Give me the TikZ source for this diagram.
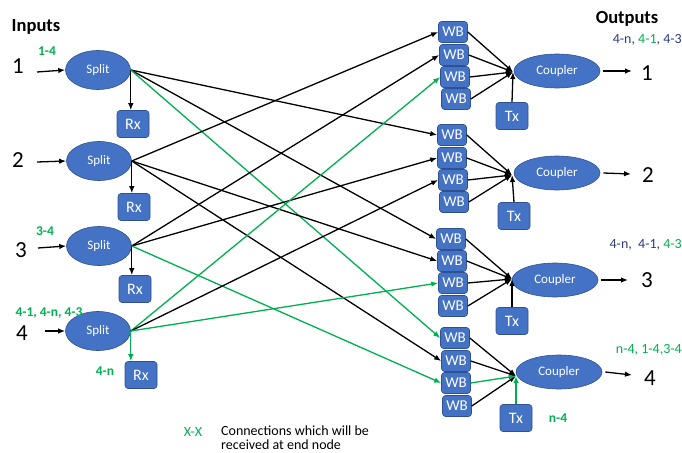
\documentclass[tikz,border=0pt]{standalone}
\usepackage{fontspec}
\setmainfont{Carlito}
\usetikzlibrary{shapes.geometric,arrows.meta}
\definecolor{boxblue}{HTML}{4472C4}
\definecolor{boxedge}{HTML}{2F528F}
\definecolor{okgreen}{HTML}{00B050}
\definecolor{navy}{HTML}{2B3D7A}
\newcommand{\txtsize}[1]{\fontsize{#1}{#1}\selectfont}
\begin{document}
\begin{tikzpicture}[x=1pt,y=-1pt,
  blueshape/.style={fill=boxblue, draw=boxedge, line width=0.6pt, inner sep=0pt, text=white},
  splitnode/.style={blueshape, ellipse, minimum width=65pt, minimum height=39pt, font=\txtsize{13}},
  couplernode/.style={blueshape, ellipse, minimum width=86pt, minimum height=34pt, font=\txtsize{13}},
  wbbox/.style={blueshape, rectangle, rounded corners=3pt, minimum width=29pt, minimum height=21pt, font=\txtsize{15}},
  rxbox/.style={blueshape, rectangle, rounded corners=3pt, minimum width=32pt, minimum height=27pt, font=\txtsize{16}},
  link/.style={line width=1.3pt, -{Latex[length=7pt,width=5.5pt]}},
  glink/.style={link, draw=okgreen, fill=okgreen},
  num/.style={font=\txtsize{23}, inner sep=0pt},
  heading/.style={font=\bfseries\txtsize{18.5}, inner sep=0pt},
  glabel/.style={font=\bfseries\txtsize{13.5}, text=okgreen, inner sep=0pt},
  olabel/.style={font=\txtsize{14}, text=navy, inner sep=0pt}
]
\useasboundingbox (0,0) rectangle (682,452);

% headings
\node[heading] (inputs) at (36,27) {Inputs};
\node[heading] (outputs) at (627,19) {Outputs};

% input side: numbers, splitters, receivers
\node[num] (n1) at (18,66) {1};
\node[num] (n2) at (18,160) {2};
\node[num] (n3) at (21,250) {3};
\node[num] (n4) at (22,333) {4};

\node[splitnode] (s1) at (98,70) {Split};
\node[splitnode] (s2) at (99,161) {Split};
\node[splitnode] (s3) at (99,246) {Split};
\node[splitnode] (s4) at (98,331) {Split};

\node[rxbox] (r1) at (133,124) {Rx};
\node[rxbox] (r2) at (134,207) {Rx};
\node[rxbox] (r3) at (135,289) {Rx};
\node[rxbox] (r4) at (141,375) {Rx};

\coordinate (i1) at (37,72);
\coordinate (i2) at (37,162);
\coordinate (i3) at (38,248);
\coordinate (i4) at (45,331);

\node[glabel] (l14) at (47,51) {1-4};
\node[glabel] (l34) at (45,231) {3-4};
\node[glabel] (l4x) at (49,313) {4-1, 4-n, 4-3};
\node[glabel] (l4n) at (105,371) {4-n};

% wavelength blockers, four per output
\node[wbbox] (a1) at (453,32) {WB};
\node[wbbox] (a2) at (454,55) {WB};
\node[wbbox] (a3) at (455,77) {WB};
\node[wbbox] (a4) at (456,99) {WB};

\node[wbbox] (b1) at (452,135) {WB};
\node[wbbox] (b2) at (452,158) {WB};
\node[wbbox] (b3) at (453,180) {WB};
\node[wbbox] (b4) at (454,202) {WB};

\node[wbbox] (c1) at (451,239) {WB};
\node[wbbox] (c2) at (452,261) {WB};
\node[wbbox] (c3) at (453,283) {WB};
\node[wbbox] (c4) at (453,306) {WB};

\node[wbbox] (d1) at (455,338) {WB};
\node[wbbox] (d2) at (456,361) {WB};
\node[wbbox] (d3) at (456,383) {WB};
\node[wbbox] (d4) at (457,406) {WB};

% couplers and transmitters
\node[couplernode] (cp1) at (557,71) {Coupler};
\node[couplernode] (cp2) at (557,173) {Coupler};
\node[couplernode] (cp3) at (555,280) {Coupler};
\node[couplernode] (cp4) at (559,372) {Coupler};

\node[rxbox] (t1) at (512,116) {Tx};
\node[rxbox] (t2) at (514,216) {Tx};
\node[rxbox] (t3) at (512,321) {Tx};
\node[rxbox] (t4) at (516,418) {Tx};

\coordinate (j1) at (513,72);
\coordinate (j2) at (512,175);
\coordinate (j3) at (512,279);
\coordinate (j4) at (516,376);

\coordinate (o1) at (632,71);
\coordinate (o2) at (631,174);
\coordinate (o3) at (628,280);
\coordinate (o4) at (632,375);

\node[num] (m1) at (647,73) {1};
\node[num] (m2) at (648,175) {2};
\node[num] (m3) at (647,280) {3};
\node[num] (m4) at (650,378) {4};

\node[olabel, anchor=east] (q1) at (682,40) {4-n, \textcolor{okgreen}{4-1}, 4-3};
\node[olabel, anchor=east] (q3) at (682,245) {4-n,\ \ 4-1, \textcolor{okgreen}{4-3}};
\node[olabel, anchor=east, text=okgreen] (q4) at (682,350) {n-4, 1-4,3-4};
\node[glabel] (ln4) at (558,418) {n-4};

% input arrows
\draw[link] (i1) -- (s1.west);
\draw[link] (i2) -- (s2.west);
\draw[link] (i3) -- (s3.west);
\draw[link] (i4) -- (s4.west);

% splitter to local receiver
\draw[link] (s1.east) -- (s1.east |- r1.north);
\draw[link] (s2.east) -- (s2.east |- r2.north);
\draw[link] (s3.east) -- (s3.east |- r3.north);
\draw[glink] (s4.east) -- (s4.east |- r4.north);

% splitter fan-out to the wavelength blockers
\draw[link] (s1.east) -- (b1.west);
\draw[link] (s1.east) -- (c1.west);
\draw[glink] (s1.east) -- (d1.west);

\draw[link] (s2.east) -- (a1.west);
\draw[link] (s2.east) -- (c2.west);
\draw[link] (s2.east) -- (d2.west);

\draw[link] (s3.east) -- (a2.west);
\draw[link] (s3.east) -- (b2.west);
\draw[glink] (s3.east) -- (d3.west);

\draw[glink] (s4.east) -- (a3.west);
\draw[link] (s4.east) -- (b3.west);
\draw[glink] (s4.east) -- (c3.west);

% blockers and transmitters merging into each coupler
\foreach \w in {a1,a2,a3,a4} \draw[link] (\w.east) -- (j1);
\foreach \w in {b1,b2,b3,b4} \draw[link] (\w.east) -- (j2);
\foreach \w in {c1,c2,c3,c4} \draw[link] (\w.east) -- (j3);
\foreach \w in {d1,d2,d4} \draw[link] (\w.east) -- (j4);
\draw[glink] (d3.east) -- (j4);

\draw[link] (t1.north) -- (j1);
\draw[link] (t2.north) -- (j2);
\draw[link] (t3.north) -- (j3);
\draw[glink] (t4.north) -- (j4);

% coupler outputs
\draw[link] ([xshift=3pt]cp1.east) -- (o1);
\draw[link] ([xshift=3pt]cp2.east) -- (o2);
\draw[link] ([xshift=3pt]cp3.east) -- (o3);
\draw[link] ([xshift=3pt]cp4.east) -- (o4);

% legend
\node[font=\txtsize{14}, text=okgreen, inner sep=0pt] (key) at (193,432) {X-X};
\node[font=\txtsize{14}, anchor=west, align=left, inner sep=0pt] (keytext) at (221,438)
  {\txtsize{14}\baselineskip=15pt Connections which will be\\received at end node};
\end{tikzpicture}
\end{document}
